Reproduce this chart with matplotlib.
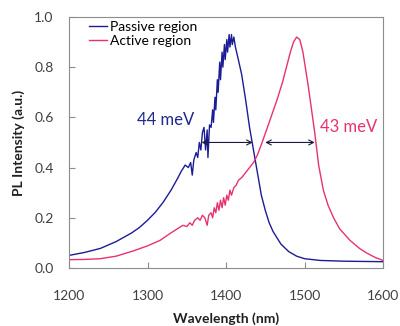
import matplotlib.pyplot as plt

plt.rcParams["font.family"] = ["Lato", "DejaVu Sans"]

# passive region spectrum (blue)
passive_wl = [1200, 1220, 1240, 1260, 1280, 1290, 1300, 1310, 1320, 1330, 1338, 1343, 1348, 1352,
              1355, 1357, 1359, 1362, 1364, 1366, 1368, 1370, 1372, 1374, 1376, 1377, 1379, 1381,
              1383, 1384, 1386, 1387, 1389, 1390, 1392, 1393, 1395, 1396, 1398, 1399, 1401, 1402,
              1404, 1405, 1407, 1408, 1410, 1412, 1415, 1420, 1425, 1430, 1435, 1440, 1445, 1450,
              1455, 1460, 1465, 1470, 1480, 1490, 1500, 1520, 1550, 1600]
passive_int = [0.05, 0.062, 0.078, 0.105, 0.14, 0.162, 0.19, 0.222, 0.262, 0.31, 0.355, 0.385, 0.41,
               0.40, 0.42, 0.37, 0.43, 0.46, 0.44, 0.50, 0.47, 0.54, 0.56, 0.47, 0.55, 0.44, 0.57,
               0.56, 0.63, 0.58, 0.68, 0.63, 0.75, 0.70, 0.82, 0.75, 0.86, 0.80, 0.89, 0.83, 0.91,
               0.86, 0.93, 0.88, 0.93, 0.89, 0.92, 0.88, 0.84, 0.77, 0.67, 0.56, 0.47, 0.38, 0.29,
               0.23, 0.18, 0.145, 0.12, 0.095, 0.065, 0.047, 0.037, 0.03, 0.027, 0.025]

# active region spectrum (pink)
active_wl = [1200, 1220, 1240, 1260, 1282, 1300, 1316, 1330, 1340, 1345, 1350, 1354, 1357, 1360,
             1364, 1367, 1370, 1373, 1376, 1378, 1381, 1383, 1385, 1387, 1389, 1391, 1393, 1395,
             1397, 1399, 1401, 1403, 1405, 1407, 1410, 1413, 1416, 1420, 1425, 1430, 1435, 1440,
             1446, 1455, 1465, 1472, 1477, 1482, 1486, 1490, 1494, 1498, 1501, 1505, 1509, 1513,
             1518, 1524, 1530, 1537, 1545, 1558, 1570, 1579, 1590, 1600]
active_int = [0.033, 0.034, 0.037, 0.047, 0.068, 0.088, 0.11, 0.14, 0.16, 0.17, 0.165, 0.18, 0.17,
              0.19, 0.20, 0.19, 0.21, 0.20, 0.17, 0.21, 0.22, 0.20, 0.24, 0.22, 0.26, 0.23, 0.27,
              0.24, 0.28, 0.25, 0.29, 0.27, 0.31, 0.29, 0.32, 0.33, 0.35, 0.36, 0.38, 0.40, 0.42,
              0.45, 0.50, 0.58, 0.67, 0.74, 0.80, 0.86, 0.90, 0.92, 0.91, 0.86, 0.80, 0.72, 0.63,
              0.54, 0.41, 0.31, 0.25, 0.20, 0.155, 0.11, 0.078, 0.06, 0.042, 0.03]

# FWHM markers
fwhm_level = 0.5
passive_fwhm = (1369, 1434)
active_fwhm = (1450, 1513)

blue = "#1c1c96"
pink = "#e8326f"
gray = "#8c8c8c"

fig = plt.figure(figsize=(4, 3.26), dpi=100)
ax = fig.add_axes([0.1725, 0.178, 0.785, 0.77])

ax.plot(passive_wl, passive_int, color=blue, lw=1.0, label="Passive region")
ax.plot(active_wl, active_int, color=pink, lw=1.0, label="Active region")

arrow = dict(arrowstyle="<->,head_length=0.35,head_width=0.18", color="#1a1a3c", lw=0.8,
             shrinkA=0, shrinkB=0)
ax.annotate("", xy=(passive_fwhm[0], fwhm_level), xytext=(passive_fwhm[1], fwhm_level), arrowprops=arrow)
ax.annotate("", xy=(active_fwhm[0], fwhm_level), xytext=(active_fwhm[1], fwhm_level), arrowprops=arrow)

ax.text(1287, 0.59, "44 meV", color="#1f2a8c", fontsize=12, va="center", ha="left")
ax.text(1520, 0.56, "43 meV", color=pink, fontsize=12, va="center", ha="left")

ax.set_xlim(1200, 1600)
ax.set_ylim(0, 1.0)
ax.set_xticks([1200, 1300, 1400, 1500, 1600])
ax.set_yticks([0.0, 0.2, 0.4, 0.6, 0.8, 1.0])
ax.set_yticklabels(["0.0", "0.2", "0.4", "0.6", "0.8", "1.0"])
ax.tick_params(direction="in", length=4, color=gray, labelcolor="#404040", labelsize=10)
ax.tick_params(axis="y", pad=11)
ax.tick_params(axis="x", pad=16)
for s in ax.spines.values():
    s.set_color(gray)
    s.set_linewidth(0.8)

ax.set_xlabel("Wavelength (nm)", fontsize=10, fontweight="bold", color="#202020", labelpad=7)
ax.set_ylabel("PL Intensity (a.u.)", fontsize=10, fontweight="bold", color="#202020", labelpad=7)

ax.legend(loc="upper left", bbox_to_anchor=(0.065, 0.985), frameon=False, fontsize=10,
          handlelength=1.3, handletextpad=0.15, labelspacing=0.15, borderaxespad=0, borderpad=0)

fig.savefig("out.png", dpi=100)
